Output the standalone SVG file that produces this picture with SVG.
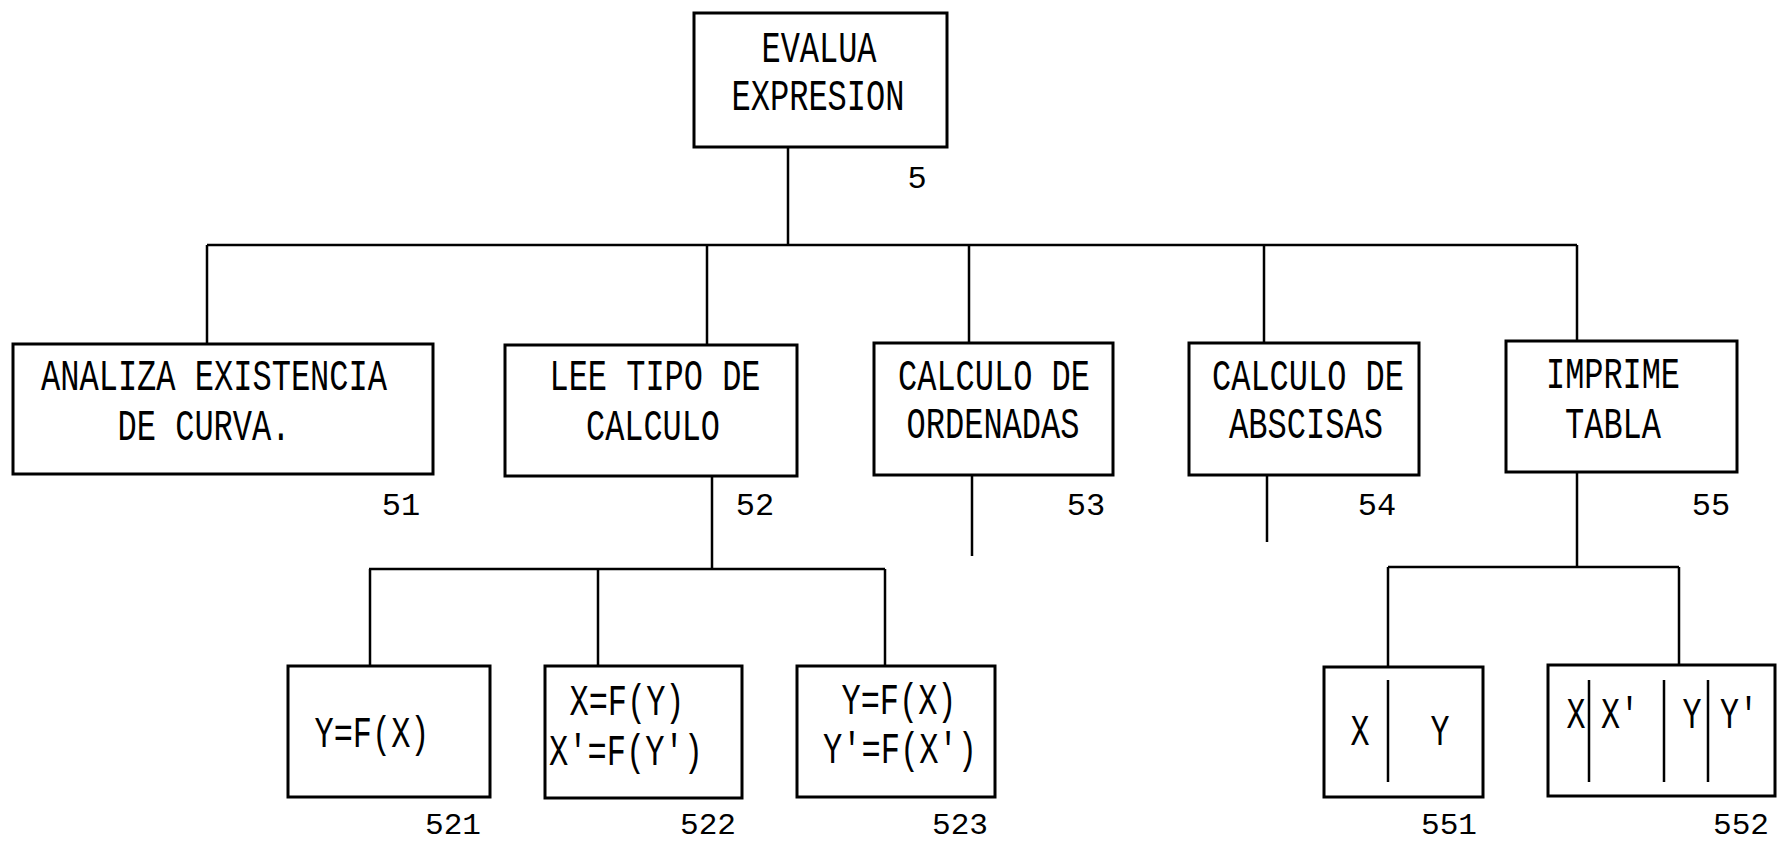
<svg xmlns="http://www.w3.org/2000/svg" width="1777" height="844" viewBox="0 0 1777 844">
<style>
.box{fill:none;stroke:#000;stroke-width:3}
.sep{fill:none;stroke:#000;stroke-width:2.5}
.con{fill:none;stroke:#000;stroke-width:2.5}
.t{font-family:"Liberation Mono","DejaVu Sans Mono",monospace;font-size:45px;fill:#000;text-anchor:middle}
.n{font-family:"Liberation Mono","DejaVu Sans Mono",monospace;font-size:32px;fill:#000;text-anchor:middle}
.nb{font-family:"Liberation Mono","DejaVu Sans Mono",monospace;font-size:30px;fill:#000;text-anchor:middle}
</style>
<rect width="1777" height="844" fill="#fff"/>
<g id="connectors">
<path class="con" d="M788,147V245M207,245H1577M207,245V344M707,245V345M969,245V343M1264,245V343M1577,245V341"/>
<path class="con" d="M712,476V569M369,569H885M370,569V666M598,569V666M885,569V666"/>
<path class="con" d="M972,475V556M1267,475V542"/>
<path class="con" d="M1577,472V567M1388,567H1679M1388,567V667M1679,567V665"/>
</g>
<g id="n5">
<rect class="box" x="694" y="13" width="253" height="134"/>
<text class="t" x="819" y="62" textLength="115" lengthAdjust="spacingAndGlyphs">EVALUA</text>
<text class="t" x="818" y="110" textLength="173" lengthAdjust="spacingAndGlyphs">EXPRESION</text>
<text class="n" x="917" y="188">5</text>
</g>
<g id="n51">
<rect class="box" x="13" y="344" width="420" height="130"/>
<text class="t" x="214" y="390" textLength="346" lengthAdjust="spacingAndGlyphs">ANALIZA EXISTENCIA</text>
<text class="t" x="204" y="440" textLength="173" lengthAdjust="spacingAndGlyphs">DE CURVA.</text>
<text class="n" x="401" y="515">51</text>
</g>
<g id="n52">
<rect class="box" x="505" y="345" width="292" height="131"/>
<text class="t" x="655" y="390" textLength="211" lengthAdjust="spacingAndGlyphs">LEE TIPO DE</text>
<text class="t" x="653" y="440" textLength="134" lengthAdjust="spacingAndGlyphs">CALCULO</text>
<text class="n" x="755" y="515">52</text>
</g>
<g id="n53">
<rect class="box" x="874" y="343" width="239" height="132"/>
<text class="t" x="994" y="390" textLength="192" lengthAdjust="spacingAndGlyphs">CALCULO DE</text>
<text class="t" x="993" y="438" textLength="173" lengthAdjust="spacingAndGlyphs">ORDENADAS</text>
<text class="n" x="1086" y="515">53</text>
</g>
<g id="n54">
<rect class="box" x="1189" y="343" width="230" height="132"/>
<text class="t" x="1308" y="390" textLength="192" lengthAdjust="spacingAndGlyphs">CALCULO DE</text>
<text class="t" x="1306" y="438" textLength="154" lengthAdjust="spacingAndGlyphs">ABSCISAS</text>
<text class="n" x="1377" y="515">54</text>
</g>
<g id="n55">
<rect class="box" x="1506" y="341" width="231" height="131"/>
<text class="t" x="1613" y="388" textLength="134" lengthAdjust="spacingAndGlyphs">IMPRIME</text>
<text class="t" x="1613" y="438" textLength="96" lengthAdjust="spacingAndGlyphs">TABLA</text>
<text class="n" x="1711" y="515">55</text>
</g>
<g id="n521">
<rect class="box" x="288" y="666" width="202" height="131"/>
<text class="t" x="372" y="747" textLength="115" lengthAdjust="spacingAndGlyphs">Y=F(X)</text>
<text class="nb" x="453" y="834" textLength="56" lengthAdjust="spacingAndGlyphs">521</text>
</g>
<g id="n522">
<rect class="box" x="545" y="666" width="197" height="132"/>
<text class="t" x="627" y="715" textLength="115" lengthAdjust="spacingAndGlyphs">X=F(Y)</text>
<text class="t" x="626" y="765" textLength="154" lengthAdjust="spacingAndGlyphs">X'=F(Y')</text>
<text class="nb" x="708" y="834" textLength="56" lengthAdjust="spacingAndGlyphs">522</text>
</g>
<g id="n523">
<rect class="box" x="797" y="666" width="198" height="131"/>
<text class="t" x="899" y="714" textLength="115" lengthAdjust="spacingAndGlyphs">Y=F(X)</text>
<text class="t" x="900" y="763" textLength="154" lengthAdjust="spacingAndGlyphs">Y'=F(X')</text>
<text class="nb" x="960" y="834" textLength="56" lengthAdjust="spacingAndGlyphs">523</text>
</g>
<g id="n551">
<rect class="box" x="1324" y="667" width="159" height="130"/>
<path class="sep" d="M1388,680V782"/>
<text class="t" x="1360" y="745" textLength="19" lengthAdjust="spacingAndGlyphs">X</text>
<text class="t" x="1440" y="745" textLength="19" lengthAdjust="spacingAndGlyphs">Y</text>
<text class="nb" x="1449" y="834" textLength="56" lengthAdjust="spacingAndGlyphs">551</text>
</g>
<g id="n552">
<rect class="box" x="1548" y="665" width="227" height="131"/>
<path class="sep" d="M1589,680V782M1664,680V782M1708,680V782"/>
<text class="t" x="1576" y="728" textLength="19" lengthAdjust="spacingAndGlyphs">X</text>
<text class="t" x="1620" y="728" textLength="38" lengthAdjust="spacingAndGlyphs">X'</text>
<text class="t" x="1692" y="728" textLength="19" lengthAdjust="spacingAndGlyphs">Y</text>
<text class="t" x="1739" y="728" textLength="38" lengthAdjust="spacingAndGlyphs">Y'</text>
<text class="nb" x="1741" y="834" textLength="56" lengthAdjust="spacingAndGlyphs">552</text>
</g>
</svg>
